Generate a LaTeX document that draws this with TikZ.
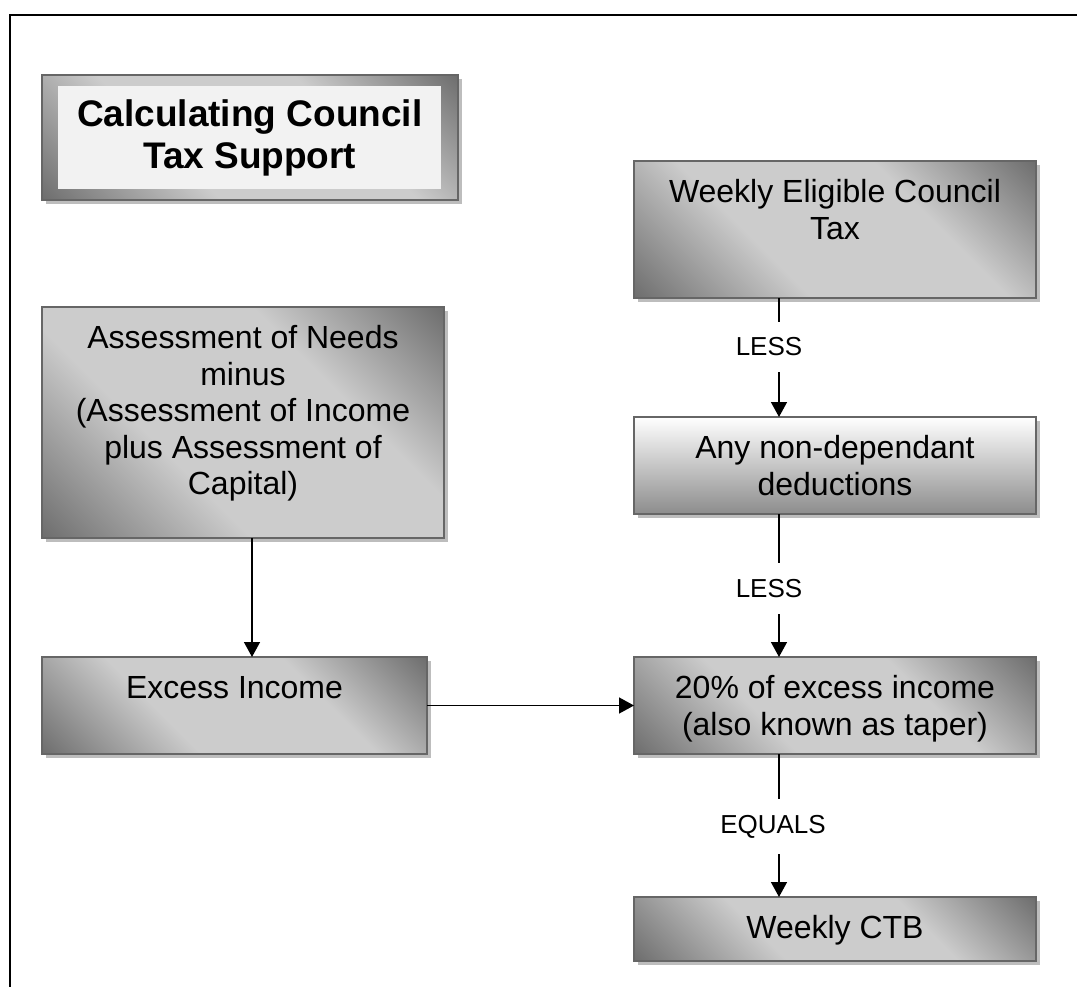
\documentclass[tikz,border=0pt]{standalone}
\usepackage{fontspec}
\setmainfont{Liberation Sans}
\usetikzlibrary{arrows.meta,shadows}
\definecolor{dk}{gray}{0.42}
\definecolor{lt}{gray}{0.80}
\definecolor{bord}{gray}{0.40}
\definecolor{shad}{gray}{0.74}
\definecolor{inner}{gray}{0.95}
\pgfdeclarehorizontalshading{diagsh}{100bp}{color(0bp)=(dk); color(14bp)=(dk); color(38bp)=(lt); color(64bp)=(lt); color(86bp)=(dk); color(100bp)=(dk)}
\newcommand{\bxt}[3]{\begin{minipage}[c][#2][t]{#1}\centering\vspace*{16pt}\strut #3\end{minipage}}
\tikzset{
  boxbase/.style={draw=bord, line width=1.5pt, inner sep=0pt, outer sep=0pt, anchor=north west,
    font=\fontsize{32}{36.5}\selectfont,
    drop shadow={shadow xshift=4pt, shadow yshift=-4pt, fill=shad, opacity=1}},
  gbox/.style={boxbase, shading=diagsh, shading angle=45},
  vbox/.style={boxbase, top color=white, bottom color=black!45},
  arr/.style={line width=1.5pt, -{Triangle[width=16pt,length=15pt]}},
  lbl/.style={fill=white, font=\fontsize{26}{30}\selectfont, inner xsep=4pt, inner ysep=16pt},
  frame/.style={line width=2pt, black}
}
\begin{document}
\begin{tikzpicture}[x=1pt,y=-1pt]
\useasboundingbox (0,0) rectangle (1077,987);
\draw[frame] (10,1000) -- (10,15) -- (1090,15);
% title
\node[gbox, minimum width=416pt, minimum height=125pt] (title) at (42,75) {};
\node[fill=inner, inner sep=0pt, anchor=north west, minimum width=383pt, minimum height=103pt,
  align=center, font=\fontsize{37}{42}\selectfont\bfseries] (titlein) at (58,86) {Calculating Council\\Tax Support};
% boxes
\node[gbox] (wect) at (634,161) {\bxt{402pt}{137pt}{Weekly Eligible Council\\Tax}};
\node[gbox] (assess) at (42,307) {\bxt{402pt}{231pt}{Assessment of Needs\\minus\\(Assessment of Income\\plus Assessment of\\Capital)}};
\node[vbox] (any) at (634,417) {\bxt{402pt}{97pt}{Any non-dependant\\deductions}};
\node[gbox] (excess) at (42,657) {\bxt{385pt}{97pt}{Excess Income}};
\node[gbox] (pct) at (634,657) {\bxt{402pt}{97pt}{20\% of excess income\\(also known as taper)}};
\node[gbox] (ctb) at (634,897) {\bxt{402pt}{64pt}{Weekly CTB}};
% connectors
\coordinate (cx) at (779,0);
\coordinate (lx) at (252,0);
\draw[arr] (wect.south -| cx) -- node[lbl, pos=.41, xshift=-10pt] {LESS} (any.north -| cx);
\draw[arr] (any.south -| cx) -- node[lbl, pos=.52, xshift=-10pt] {LESS} (pct.north -| cx);
\draw[arr] (pct.south -| cx) -- node[lbl, pos=.51, xshift=-6pt] {EQUALS} (ctb.north -| cx);
\draw[arr] (assess.south -| lx) -- (excess.north -| lx);
\draw[arr] (excess.east) -- (pct.west);
\end{tikzpicture}
\end{document}
